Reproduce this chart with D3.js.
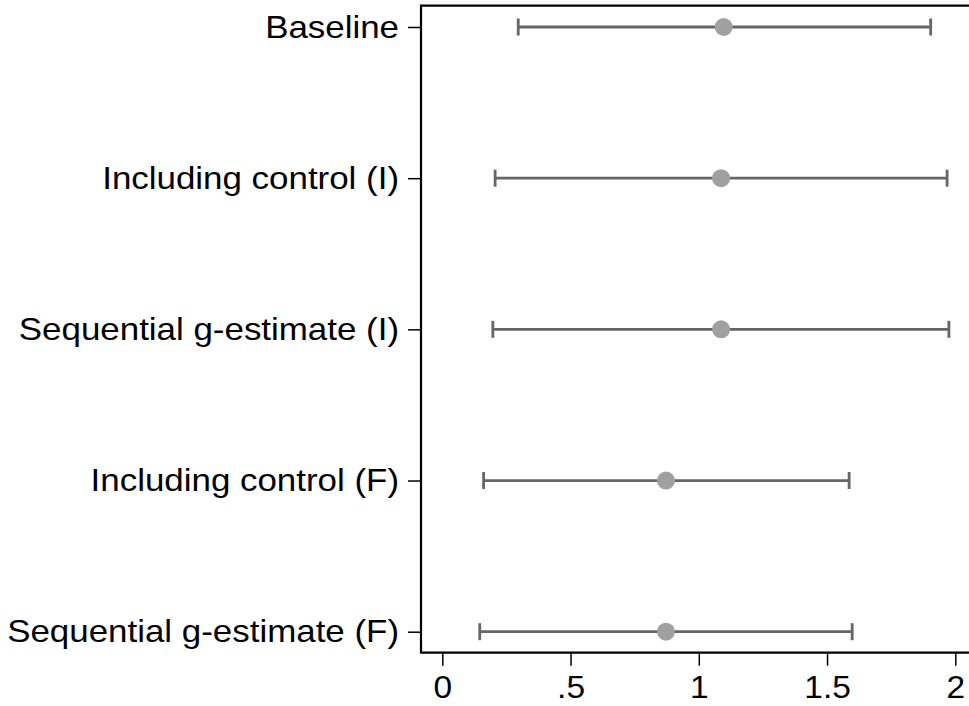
<html>
<head>
<title>Coefficient plot</title>
<style>
  body { margin: 0; background: #fff; }
  text { font-family: "Liberation Sans", Arial, sans-serif; }
</style>
</head>
<body>
<svg></svg>
<script src="https://d3js.org/d3.v7.min.js"></script>
<script>
// data
var labels = ["Baseline", "Including control (I)", "Sequential g-estimate (I)",
              "Including control (F)", "Sequential g-estimate (F)"];
var estimates = [1.097, 1.087, 1.087, 0.872, 0.872];
var lower = [0.296, 0.206, 0.197, 0.161, 0.146];
var upper = [1.904, 1.968, 1.975, 1.586, 1.598];
var xTicks = [0, 0.5, 1, 1.5, 2];
var xTickLabels = ["0", ".5", "1", "1.5", "2"];

var width = 969, height = 706;
var svg = d3.select("svg").attr("width", width).attr("height", height);

// plot region
var plotLeft = 421, plotTop = 5.7, plotBottom = 652.7, plotRight = 990;

var x = d3.scaleLinear().domain([0, 2]).range([442.3, 955.3]);
var y = d3.scalePoint().domain(labels).range([27, 631.7]);

var rows = labels.map(function(l, i) {
  return {label: l, est: estimates[i], lo: lower[i], hi: upper[i]};
});

// the glyphs in the original are a bit wider than Arial
var stretchY = 1.145, stretchX = 1.08;

// frame (top, left, bottom)
svg.append("path")
  .attr("d", "M" + plotRight + "," + plotTop + "H" + plotLeft + "V" + plotBottom + "H" + plotRight)
  .attr("fill", "none")
  .attr("stroke", "#000")
  .attr("stroke-width", 2.2);

// y axis
var yAxis = svg.append("g")
  .attr("transform", "translate(" + plotLeft + ",0)")
  .call(d3.axisLeft(y).tickSize(13).tickPadding(9));
yAxis.select(".domain").remove();
yAxis.selectAll(".tick line").attr("stroke", "#000").attr("stroke-width", 1.5);
yAxis.selectAll(".tick text")
  .attr("fill", "#000")
  .style("font-size", "30.5px")
  .attr("x", -22 / stretchY)
  .attr("dy", "0.33em")
  .attr("transform", "scale(" + stretchY + ",1)");

// x axis
var xAxis = svg.append("g")
  .attr("transform", "translate(0," + plotBottom + ")")
  .call(d3.axisBottom(x).tickValues(xTicks)
    .tickFormat(function(d, i) { return xTickLabels[i]; })
    .tickSize(13).tickPadding(10));
xAxis.select(".domain").remove();
xAxis.selectAll(".tick line").attr("stroke", "#000").attr("stroke-width", 1.5);
xAxis.selectAll(".tick text")
  .attr("fill", "#000")
  .style("font-size", "31px")
  .attr("dy", "0.71em")
  .attr("transform", "scale(" + stretchX + ",1)");

// error bars
var bars = svg.append("g").selectAll("g").data(rows).enter().append("g")
  .attr("stroke", "#666666")
  .attr("stroke-width", 2.8);

bars.append("line")
  .attr("x1", function(d) { return x(d.lo); })
  .attr("x2", function(d) { return x(d.hi); })
  .attr("y1", function(d) { return y(d.label); })
  .attr("y2", function(d) { return y(d.label); });

bars.append("line")
  .attr("x1", function(d) { return x(d.lo); })
  .attr("x2", function(d) { return x(d.lo); })
  .attr("y1", function(d) { return y(d.label) - 8.5; })
  .attr("y2", function(d) { return y(d.label) + 8.5; });

bars.append("line")
  .attr("x1", function(d) { return x(d.hi); })
  .attr("x2", function(d) { return x(d.hi); })
  .attr("y1", function(d) { return y(d.label) - 8.5; })
  .attr("y2", function(d) { return y(d.label) + 8.5; });

// point estimates
svg.append("g").selectAll("circle").data(rows).enter().append("circle")
  .attr("cx", function(d) { return x(d.est); })
  .attr("cy", function(d) { return y(d.label); })
  .attr("r", 9)
  .attr("fill", "#a0a0a0");
</script>
</body>
</html>
